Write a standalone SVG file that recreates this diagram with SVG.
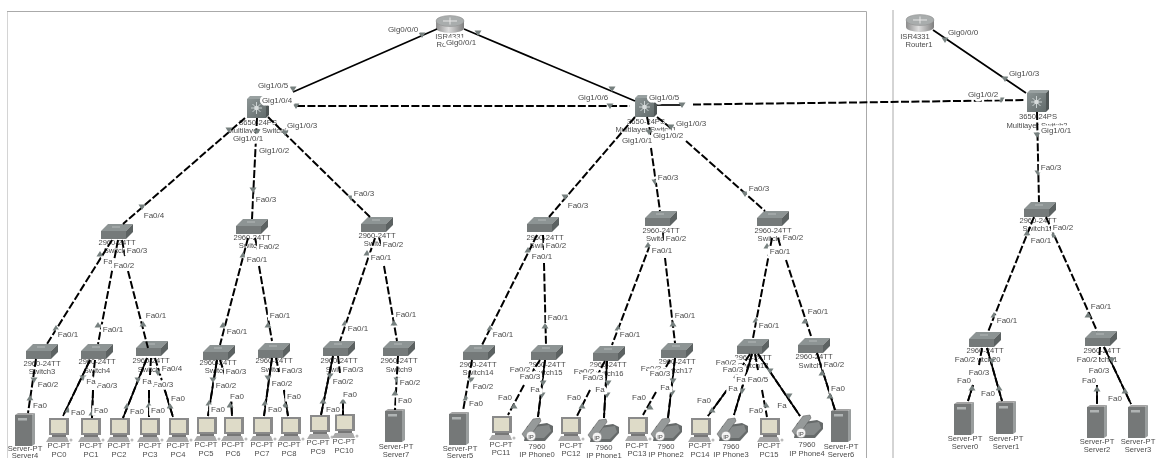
<svg xmlns="http://www.w3.org/2000/svg" width="1158" height="458" viewBox="0 0 1158 458">
<style>
text{font-family:"Liberation Sans",Arial,sans-serif;text-anchor:middle;fill:#4a4a4a}
.n{font-size:7.6px}
.p{font-size:8px;stroke:#fff;stroke-width:5px;paint-order:stroke;stroke-linejoin:miter}
.s{fill:none;stroke:#000;stroke-width:1.7}
.d{fill:none;stroke:#000;stroke-width:2;stroke-dasharray:8 2.4}
.f{fill:none;stroke:#aaa;stroke-width:1}
</style>
<defs>
<filter id="soft" x="0" y="0" width="100%" height="100%"><feGaussianBlur stdDeviation="0.35"/></filter>
<linearGradient id="rg" x1="0" x2="1" y1="0" y2="0"><stop offset="0" stop-color="#8c8c8c"/><stop offset=".45" stop-color="#dedede"/><stop offset="1" stop-color="#7e7e7e"/></linearGradient>
<linearGradient id="mg" x1="0" x2="1" y1="0" y2="1"><stop offset="0" stop-color="#8b9494"/><stop offset="1" stop-color="#626b6b"/></linearGradient>
<g id="sw"><polygon points="7,0 32,0 25,7 0,7" fill="#8d9494"/><rect x="0" y="7" width="25" height="8" fill="#747a7a"/><polygon points="25,7 32,0 32,8 25,15" fill="#5c6262"/><path d="M11 3h8" stroke="#b5baba" stroke-width="1"/></g>
<g id="rt"><path d="M0 6v7a14 5 0 0 0 28 0v-7z" fill="url(#rg)"/><ellipse cx="14" cy="6" rx="14" ry="5.500" fill="#a9adad" stroke="#8a8a8a" stroke-width=".5"/><path d="M7 6h14M14 2.500v7" stroke="#e6e6e6" stroke-width="1"/></g>
<g id="ml"><polygon points="3,0 22,0 19,3 0,3" fill="#99a1a1"/><rect x="0" y="3" width="19" height="19" fill="url(#mg)"/><polygon points="19,3 22,0 22,19 19,22" fill="#4f5656"/><path d="M9.500 6v12M4 12h11M5.500 8l8 8M13.500 8l-8 8" stroke="#c9d0d0" stroke-width="1"/><circle cx="9.500" cy="12" r="2.300" fill="#d8dddd"/></g>
<g id="pc"><rect x="3" y="0" width="20" height="17" fill="#8a8a8a"/><rect x="5" y="2" width="15" height="13" fill="#dedbc8"/><rect x="6" y="17" width="14" height="2" fill="#777"/><polygon points="3,19 21,19 23,24 0,24" fill="#a8a8a8"/><ellipse cx="25" cy="22" rx="1.500" ry="1.500" fill="#bbb"/></g>
<g id="sv"><polygon points="0,2 3,0 20,0 17,2" fill="#a3a3a3"/><rect x="0" y="2" width="17" height="31" fill="#747878"/><polygon points="17,2 20,0 20,31 17,33" fill="#9a9e9e"/><rect x="3" y="5" width="9" height="2.500" fill="#b0b4b4"/></g>
<g id="ph"><polygon points="6,8 26,5 32,8 32,14 24,23 3,23" fill="#666a6a"/><polygon points="13,9 28,7 30,13 23,20 10,20" fill="#858989"/><polygon points="1,16 12,1 19,0 20,3 9,18 4,20" fill="#969a9a" stroke="#555" stroke-width=".5"/><circle cx="10" cy="18" r="4.800" fill="#f4f4f4" stroke="#777" stroke-width=".5"/><text x="10" y="20.500" style="font-size:6px">IP</text></g>
<polygon id="dn" points="-3.500,-2.500 3.500,-2.500 0,3" fill="#76807f"/>
<polygon id="up" points="-3.500,2.500 3.500,2.500 0,-3" fill="#76807f"/>
</defs>
<rect width="1158" height="458" fill="#fff"/>
<g filter="url(#soft)">
<path class="f" d="M7 458V11.500H866.500V458M893 10V458"/>

<g id="Router0"><use href="#rt" x="436" y="15"/><text class="n" x="450" y="39">ISR4331</text><text class="n" x="450" y="47">Router0</text></g>
<g id="Router1"><use href="#rt" x="906" y="14"/><text class="n" x="915" y="39">ISR4331</text><text class="n" x="919" y="47">Router1</text></g>
<g id="MLS0"><use href="#ml" x="247" y="96"/><text class="n" x="258" y="125">3650-24PS</text><text class="n" x="258" y="133">Multilayer Switch0</text></g>
<g id="MLS1"><use href="#ml" x="635" y="95"/><text class="n" x="646" y="124">3650-24PS</text><text class="n" x="646" y="132">Multilayer Switch1</text></g>
<g id="MLS2"><use href="#ml" x="1027" y="90"/><text class="n" x="1038" y="119">3650-24PS</text><text class="n" x="1037" y="128">Multilayer Switch2</text></g>

<g id="Switch0"><use href="#sw" x="101" y="224"/><text class="n" x="117" y="245">2960-24TT</text><text class="n" x="117" y="253">Switch0</text></g>
<g id="Switch1"><use href="#sw" x="236" y="219"/><text class="n" x="252" y="240">2960-24TT</text><text class="n" x="252" y="248">Switch1</text></g>
<g id="Switch2"><use href="#sw" x="361" y="217"/><text class="n" x="377" y="238">2960-24TT</text><text class="n" x="377" y="246">Switch2</text></g>
<g id="Switch10"><use href="#sw" x="527" y="217"/><text class="n" x="545" y="240">2960-24TT</text><text class="n" x="545" y="248">Switch10</text></g>
<g id="Switch11"><use href="#sw" x="645" y="211"/><text class="n" x="661" y="233">2960-24TT</text><text class="n" x="661" y="241">Switch11</text></g>
<g id="Switch12"><use href="#sw" x="757" y="211"/><text class="n" x="773" y="233">2960-24TT</text><text class="n" x="773" y="241">Switch12</text></g>
<g id="Switch13"><use href="#sw" x="1024" y="202"/><text class="n" x="1038" y="223">2960-24TT</text><text class="n" x="1038" y="231">Switch13</text></g>

<g id="Switch3"><use href="#sw" x="26" y="344"/><text class="n" x="42" y="366">2960-24TT</text><text class="n" x="42" y="374">Switch3</text></g>
<g id="Switch4"><use href="#sw" x="81" y="344"/><text class="n" x="97" y="364">2960-24TT</text><text class="n" x="97" y="373">Switch4</text></g>
<g id="Switch5"><use href="#sw" x="136" y="341"/><text class="n" x="151" y="363">2960-24TT</text><text class="n" x="151" y="372">Switch5</text></g>
<g id="Switch6"><use href="#sw" x="203" y="345"/><text class="n" x="218" y="365">2960-24TT</text><text class="n" x="218" y="373">Switch6</text></g>
<g id="Switch7"><use href="#sw" x="258" y="343"/><text class="n" x="274" y="363">2960-24TT</text><text class="n" x="274" y="372">Switch7</text></g>
<g id="Switch8"><use href="#sw" x="323" y="341"/><text class="n" x="339" y="363">2960-24TT</text><text class="n" x="339" y="372">Switch8</text></g>
<g id="Switch9"><use href="#sw" x="383" y="341"/><text class="n" x="399" y="363">2960-24TT</text><text class="n" x="399" y="372">Switch9</text></g>
<g id="Switch14"><use href="#sw" x="463" y="345"/><text class="n" x="478" y="367">2960-24TT</text><text class="n" x="478" y="375">Switch14</text></g>
<g id="Switch15"><use href="#sw" x="531" y="345"/><text class="n" x="547" y="367">2960-24TT</text><text class="n" x="547" y="375">Switch15</text></g>
<g id="Switch16"><use href="#sw" x="593" y="346"/><text class="n" x="608" y="367">2960-24TT</text><text class="n" x="608" y="376">Switch16</text></g>
<g id="Switch17"><use href="#sw" x="661" y="343"/><text class="n" x="677" y="364">2960-24TT</text><text class="n" x="677" y="373">Switch17</text></g>
<g id="Switch18"><use href="#sw" x="737" y="339"/><text class="n" x="753" y="360">2960-24TT</text><text class="n" x="753" y="368">Switch18</text></g>
<g id="Switch19"><use href="#sw" x="798" y="338"/><text class="n" x="814" y="359">2960-24TT</text><text class="n" x="814" y="368">Switch19</text></g>
<g id="Switch20"><use href="#sw" x="969" y="332"/><text class="n" x="985" y="353">2960-24TT</text><text class="n" x="985" y="362">Switch20</text></g>
<g id="Switch21"><use href="#sw" x="1085" y="331"/><text class="n" x="1102" y="353">2960-24TT</text><text class="n" x="1102" y="362">Switch21</text></g>

<g id="Server4"><use href="#sv" x="15" y="413"/><text class="n" x="25" y="451">Server-PT</text><text class="n" x="25" y="458">Server4</text></g>
<g id="PC0"><use href="#pc" x="46" y="418"/><text class="n" x="59" y="448">PC-PT</text><text class="n" x="59" y="457">PC0</text></g>
<g id="PC1"><use href="#pc" x="78" y="418"/><text class="n" x="91" y="448">PC-PT</text><text class="n" x="91" y="457">PC1</text></g>
<g id="PC2"><use href="#pc" x="107" y="418"/><text class="n" x="119" y="448">PC-PT</text><text class="n" x="119" y="457">PC2</text></g>
<g id="PC3"><use href="#pc" x="137" y="418"/><text class="n" x="150" y="448">PC-PT</text><text class="n" x="150" y="457">PC3</text></g>
<g id="PC4"><use href="#pc" x="166" y="418"/><text class="n" x="178" y="448">PC-PT</text><text class="n" x="178" y="457">PC4</text></g>
<g id="PC5"><use href="#pc" x="194" y="417"/><text class="n" x="206" y="447">PC-PT</text><text class="n" x="206" y="456">PC5</text></g>
<g id="PC6"><use href="#pc" x="221" y="417"/><text class="n" x="233" y="447">PC-PT</text><text class="n" x="233" y="456">PC6</text></g>
<g id="PC7"><use href="#pc" x="250" y="417"/><text class="n" x="262" y="447">PC-PT</text><text class="n" x="262" y="456">PC7</text></g>
<g id="PC8"><use href="#pc" x="278" y="417"/><text class="n" x="289" y="447">PC-PT</text><text class="n" x="289" y="456">PC8</text></g>
<g id="PC9"><use href="#pc" x="307" y="415"/><text class="n" x="318" y="445">PC-PT</text><text class="n" x="318" y="454">PC9</text></g>
<g id="PC10"><use href="#pc" x="332" y="414"/><text class="n" x="344" y="444">PC-PT</text><text class="n" x="344" y="453">PC10</text></g>
<g id="Server7"><use href="#sv" x="385" y="409"/><text class="n" x="396" y="449">Server-PT</text><text class="n" x="396" y="457">Server7</text></g>
<g id="Server5"><use href="#sv" x="449" y="412"/><text class="n" x="460" y="451">Server-PT</text><text class="n" x="460" y="458">Server5</text></g>
<g id="PC11"><use href="#pc" x="489" y="416"/><text class="n" x="501" y="447">PC-PT</text><text class="n" x="501" y="455">PC11</text></g>
<g id="IPPhone0"><use href="#ph" x="521" y="418"/><text class="n" x="537" y="449">7960</text><text class="n" x="537" y="457">IP Phone0</text></g>
<g id="PC12"><use href="#pc" x="558" y="417"/><text class="n" x="571" y="448">PC-PT</text><text class="n" x="571" y="456">PC12</text></g>
<g id="IPPhone1"><use href="#ph" x="587" y="419"/><text class="n" x="604" y="450">7960</text><text class="n" x="604" y="458">IP Phone1</text></g>
<g id="PC13"><use href="#pc" x="625" y="417"/><text class="n" x="637" y="448">PC-PT</text><text class="n" x="637" y="456">PC13</text></g>
<g id="IPPhone2"><use href="#ph" x="650" y="418"/><text class="n" x="666" y="449">7960</text><text class="n" x="666" y="457">IP Phone2</text></g>
<g id="PC14"><use href="#pc" x="688" y="418"/><text class="n" x="700" y="448">PC-PT</text><text class="n" x="700" y="457">PC14</text></g>
<g id="IPPhone3"><use href="#ph" x="716" y="418"/><text class="n" x="731" y="449">7960</text><text class="n" x="731" y="457">IP Phone3</text></g>
<g id="PC15"><use href="#pc" x="757" y="418"/><text class="n" x="769" y="448">PC-PT</text><text class="n" x="769" y="457">PC15</text></g>
<g id="IPPhone4"><use href="#ph" x="791" y="415"/><text class="n" x="807" y="447">7960</text><text class="n" x="807" y="456">IP Phone4</text></g>
<g id="Server6"><use href="#sv" x="831" y="409"/><text class="n" x="841" y="449">Server-PT</text><text class="n" x="841" y="457">Server6</text></g>
<g id="Server0"><use href="#sv" x="954" y="402"/><text class="n" x="965" y="441">Server-PT</text><text class="n" x="965" y="449">Server0</text></g>
<g id="Server1"><use href="#sv" x="996" y="401"/><text class="n" x="1006" y="441">Server-PT</text><text class="n" x="1006" y="449">Server1</text></g>
<g id="Server2"><use href="#sv" x="1087" y="405"/><text class="n" x="1097" y="444">Server-PT</text><text class="n" x="1097" y="452">Server2</text></g>
<g id="Server3"><use href="#sv" x="1128" y="405"/><text class="n" x="1138" y="444">Server-PT</text><text class="n" x="1138" y="452">Server3</text></g>

<g id="connectors">
<path class="s" d="M437 29L293 92M464 29L635 101M933 30L1026 93"/>
<path class="d" d="M297 106H630M693 104.500L890 102L1025 100M245 118L123 224M257 118L252 219M268 117L370 217M635 117L549 217M647 117L651 135M651 148L660 211M657 117L672 129M686 141L765 211M1037 112L1039 202"/>
<path class="d" d="M112 240L47 344M118 240L98 344M122 240L125 256M128 271L148 348M248 238L220 345M255 238L258 250M259 266L272 341M375 238L340 341M379 238L382 246M384 266L397 341M537 235L482 345M543 235L544 250M544 263L546 345M650 245L612 345M663 233L664 240M665 258L675 343M772 238L753 338M778 238L781 248M786 260L811 336M1034 217L988 332M1046 217L1097 331"/>
<path class="s" d="M657 105H682"/>
<path class="d" d="M36 359L28 413M90 360L63 416M95 360L93 378M93 390L92 418M147 358L123 418M151 358L150 375M149 390L149 417M155 358L173 417M217 360L208 416M220 360L225 375M231 396L232 416M272 358L264 416M276 358L279 372M284 390L288 416M333 356L321 415M338 356L340 373M343 390L343 415M398 356L395 410"/>
<path class="s" d="M90 360L63 416M93 390L92 418M147 358L123 418M149 395L149 417M164 387L173 417M217 360L208 416M231 396L232 416M272 358L264 416M284 390L288 416M333 356L321 415M343 390L343 415"/>
<path class="d" d="M472 360L463 411M540 360L532 372M524 385L508 415M545 360L538 417M605 361L597 376M590 390L577 416M607 361L604 418M670 360L663 372M656 392L643 415M675 358L668 418M750 354L733 380M727 390L708 416M752 354L734 415M755 354L758 370M762 390L767 417M758 354L800 416M817 353L835 410M982 348L979 365M973 385L968 401M987 348L1002 401M1100 347L1099 362M1097 385L1097 404M1104 347L1131 404"/>
<path class="s" d="M727 390L708 416M752 354L734 415M758 354L800 416M973 385L968 401M987 348L1002 401M1097 385L1097 404M1104 347L1131 404M545 360L538 417M607 361L604 418M675 358L668 418M817 353L835 410"/>
<g>
<use href="#dn" x="422" y="35"/><use href="#dn" x="293" y="89"/><use href="#dn" x="478" y="33"/><use href="#dn" x="612" y="89"/><use href="#dn" x="945" y="40"/><use href="#dn" x="1005" y="79"/>
<use href="#dn" x="296" y="106"/><use href="#dn" x="610" y="106"/><use href="#dn" x="682" y="105"/><use href="#dn" x="1001" y="100"/>
<use href="#dn" x="229" y="130"/><use href="#dn" x="142" y="207"/><use href="#dn" x="257" y="132"/><use href="#dn" x="253" y="190"/><use href="#dn" x="285" y="133"/><use href="#dn" x="351" y="198"/>
<use href="#dn" x="565" y="197"/><use href="#dn" x="649" y="132"/><use href="#dn" x="655" y="182"/><use href="#dn" x="671" y="127"/><use href="#dn" x="745" y="194"/>
<use href="#dn" x="1037" y="135"/><use href="#dn" x="1038" y="173"/>
<use href="#up" x="100" y="254"/><use href="#up" x="56" y="328"/><use href="#up" x="98" y="325"/><use href="#up" x="143" y="324"/>
<use href="#up" x="243" y="255"/><use href="#up" x="223" y="325"/><use href="#up" x="268" y="325"/>
<use href="#up" x="367" y="253"/><use href="#up" x="345" y="323"/><use href="#up" x="394" y="323"/>
<use href="#up" x="528" y="250"/><use href="#up" x="490" y="328"/><use href="#up" x="545" y="326"/>
<use href="#up" x="648" y="245"/><use href="#up" x="618" y="328"/><use href="#up" x="673" y="324"/>
<use href="#up" x="767" y="246"/><use href="#up" x="756" y="320"/><use href="#up" x="805" y="321"/>
<use href="#up" x="1027" y="233"/><use href="#up" x="994" y="315"/><use href="#up" x="1053" y="235"/><use href="#up" x="1088" y="315"/>
<use href="#dn" x="34" y="380"/><use href="#up" x="30" y="398"/><use href="#dn" x="83" y="378"/><use href="#up" x="68" y="410"/><use href="#up" x="92" y="413"/>
<use href="#dn" x="138" y="380"/><use href="#up" x="127" y="406"/><use href="#up" x="149" y="405"/><use href="#dn" x="158" y="373"/><use href="#up" x="170" y="406"/>
<use href="#dn" x="213" y="380"/><use href="#up" x="209" y="403"/><use href="#up" x="230" y="405"/><use href="#dn" x="268" y="378"/><use href="#up" x="265" y="403"/><use href="#up" x="285" y="405"/>
<use href="#dn" x="330" y="376"/><use href="#up" x="323" y="401"/><use href="#up" x="343" y="401"/><use href="#dn" x="397" y="380"/><use href="#up" x="395" y="393"/>
<use href="#dn" x="471" y="380"/><use href="#up" x="466" y="398"/><use href="#up" x="514" y="406"/><use href="#dn" x="543" y="383"/><use href="#dn" x="542" y="395"/>
<use href="#up" x="582" y="406"/><use href="#dn" x="608" y="383"/><use href="#dn" x="607" y="395"/><use href="#up" x="650" y="407"/><use href="#dn" x="673" y="381"/><use href="#dn" x="672" y="393"/>
<use href="#up" x="712" y="410"/><use href="#dn" x="742" y="391"/><use href="#up" x="766" y="405"/><use href="#dn" x="770" y="371"/><use href="#dn" x="789" y="396"/>
<use href="#up" x="822" y="373"/><use href="#up" x="830" y="396"/>
<use href="#up" x="972" y="388"/><use href="#dn" x="992" y="361"/><use href="#up" x="999" y="388"/><use href="#up" x="1097" y="389"/><use href="#dn" x="1112" y="360"/><use href="#up" x="1125" y="391"/>
</g>
</g>

<g id="port-labels">
<text class="p" x="403" y="32">Gig0/0/0</text><text class="p" x="461" y="45">Gig0/0/1</text>
<text class="p" x="273" y="88">Gig1/0/5</text><text class="p" x="277" y="103">Gig1/0/4</text><text class="p" x="302" y="128">Gig1/0/3</text><text class="p" x="248" y="141">Gig1/0/1</text><text class="p" x="274" y="153">Gig1/0/2</text>
<text class="p" x="266" y="202">Fa0/3</text><text class="p" x="364" y="196">Fa0/3</text><text class="p" x="154" y="218">Fa0/4</text>
<text class="p" x="593" y="100">Gig1/0/6</text><text class="p" x="664" y="100">Gig1/0/5</text><text class="p" x="691" y="126">Gig1/0/3</text><text class="p" x="637" y="143">Gig1/0/1</text><text class="p" x="668" y="138">Gig1/0/2</text>
<text class="p" x="578" y="208">Fa0/3</text><text class="p" x="668" y="180">Fa0/3</text><text class="p" x="759" y="191">Fa0/3</text>
<text class="p" x="963" y="35">Gig0/0/0</text><text class="p" x="1024" y="76">Gig1/0/3</text><text class="p" x="983" y="97">Gig1/0/2</text><text class="p" x="1056" y="133">Gig1/0/1</text><text class="p" x="1051" y="170">Fa0/3</text>
<text class="p" x="137" y="253">Fa0/3</text><text class="p" x="108" y="264">Fa</text><text class="p" x="124" y="268">Fa0/2</text><text class="p" x="68" y="337">Fa0/1</text><text class="p" x="113" y="332">Fa0/1</text><text class="p" x="156" y="318">Fa0/1</text>
<text class="p" x="269" y="249">Fa0/2</text><text class="p" x="257" y="262">Fa0/1</text><text class="p" x="237" y="334">Fa0/1</text><text class="p" x="280" y="318">Fa0/1</text>
<text class="p" x="393" y="247">Fa0/2</text><text class="p" x="381" y="260">Fa0/1</text><text class="p" x="358" y="331">Fa0/1</text><text class="p" x="406" y="317">Fa0/1</text>
<text class="p" x="556" y="248">Fa0/2</text><text class="p" x="542" y="259">Fa0/1</text><text class="p" x="503" y="337">Fa0/1</text><text class="p" x="558" y="320">Fa0/1</text>
<text class="p" x="676" y="241">Fa0/2</text><text class="p" x="662" y="253">Fa0/1</text><text class="p" x="630" y="337">Fa0/1</text><text class="p" x="685" y="318">Fa0/1</text>
<text class="p" x="793" y="240">Fa0/2</text><text class="p" x="780" y="254">Fa0/1</text><text class="p" x="769" y="328">Fa0/1</text><text class="p" x="818" y="314">Fa0/1</text>
<text class="p" x="1063" y="230">Fa0/2</text><text class="p" x="1041" y="243">Fa0/1</text><text class="p" x="1007" y="323">Fa0/1</text><text class="p" x="1101" y="309">Fa0/1</text>
<text class="p" x="48" y="387">Fa0/2</text><text class="p" x="40" y="408">Fa0</text>
<text class="p" x="107" y="388">Fa0/3</text><text class="p" x="91" y="384">Fa</text><text class="p" x="78" y="415">Fa0</text><text class="p" x="101" y="413">Fa0</text>
<text class="p" x="172" y="371">Fa0/4</text><text class="p" x="163" y="387">Fa0/3</text><text class="p" x="147" y="384">Fa</text><text class="p" x="137" y="414">Fa0</text><text class="p" x="158" y="413">Fa0</text><text class="p" x="178" y="401">Fa0</text>
<text class="p" x="236" y="374">Fa0/3</text><text class="p" x="226" y="388">Fa0/2</text><text class="p" x="218" y="412">Fa0</text><text class="p" x="237" y="399">Fa0</text>
<text class="p" x="292" y="373">Fa0/3</text><text class="p" x="282" y="386">Fa0/2</text><text class="p" x="275" y="412">Fa0</text><text class="p" x="294" y="399">Fa0</text>
<text class="p" x="353" y="372">Fa0/3</text><text class="p" x="343" y="384">Fa0/2</text><text class="p" x="333" y="412">Fa0</text><text class="p" x="350" y="397">Fa0</text>
<text class="p" x="410" y="385">Fa0/2</text><text class="p" x="405" y="403">Fa0</text>
<text class="p" x="483" y="389">Fa0/2</text><text class="p" x="476" y="406">Fa0</text>
<text class="p" x="520" y="372">Fa0/2</text><text class="p" x="530" y="379">Fa0/3</text><text class="p" x="535" y="392">Fa</text><text class="p" x="505" y="400">Fa0</text>
<text class="p" x="584" y="374">Fa0/2</text><text class="p" x="593" y="380">Fa0/3</text><text class="p" x="600" y="392">Fa</text><text class="p" x="574" y="400">Fa0</text>
<text class="p" x="651" y="371">Fa0/2</text><text class="p" x="660" y="376">Fa0/3</text><text class="p" x="665" y="390">Fa</text><text class="p" x="639" y="400">Fa0</text>
<text class="p" x="726" y="365">Fa0/2</text><text class="p" x="733" y="372">Fa0/3</text><text class="p" x="741" y="382">Fa</text><text class="p" x="733" y="391">Fa</text><text class="p" x="758" y="382">Fa0/5</text><text class="p" x="704" y="403">Fa0</text><text class="p" x="756" y="413">Fa0</text><text class="p" x="782" y="408">Fa</text>
<text class="p" x="834" y="367">Fa0/2</text><text class="p" x="838" y="391">Fa0</text>
<text class="p" x="965" y="362">Fa0/2</text><text class="p" x="979" y="375">Fa0/3</text><text class="p" x="964" y="383">Fa0</text><text class="p" x="988" y="396">Fa0</text>
<text class="p" x="1087" y="362">Fa0/2</text><text class="p" x="1099" y="373">Fa0/3</text><text class="p" x="1089" y="383">Fa0</text><text class="p" x="1115" y="401">Fa0</text>
</g>
</g>
</svg>
